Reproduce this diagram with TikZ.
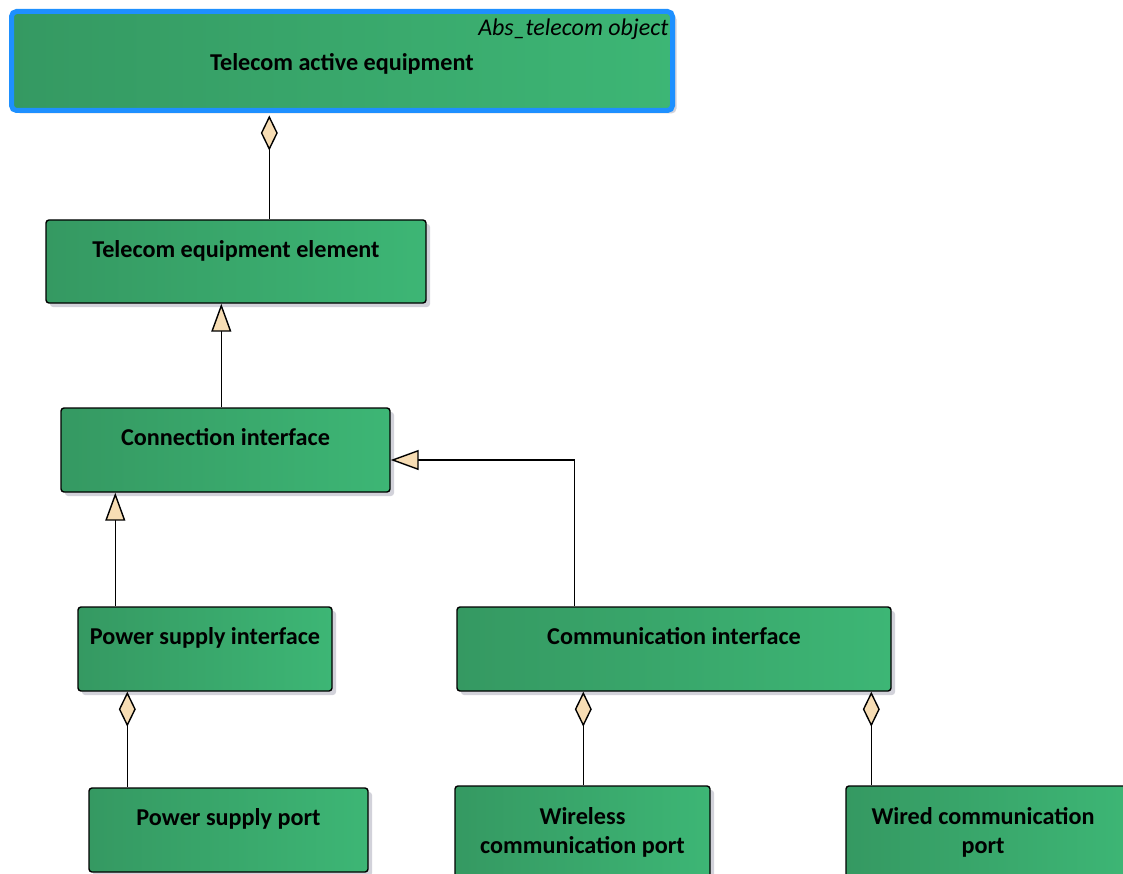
\documentclass[tikz,border=0pt]{standalone}
\usepackage{fontspec}
\setmainfont{Carlito}
\usetikzlibrary{arrows.meta,shadows,calc}
\definecolor{gL}{RGB}{53,153,98}
\definecolor{gR}{RGB}{61,182,117}
\definecolor{beige}{RGB}{247,221,180}
\definecolor{blueB}{RGB}{30,144,255}
\definecolor{shd}{RGB}{210,210,218}
\begin{document}
\begin{tikzpicture}[x=1pt,y=-1pt,
  box/.style={draw=black, line width=1.4pt, rounded corners=3pt, left color=gL, right color=gR, inner sep=0pt,
    drop shadow={shadow xshift=4pt, shadow yshift=-4pt, fill=shd, opacity=1}},
  topbox/.style={draw=blueB, line width=5pt, rounded corners=5pt, left color=gL, right color=gR, inner sep=0pt,
    drop shadow={shadow xshift=4pt, shadow yshift=-3pt, fill=shd, opacity=1}},
  lbl/.style={font=\fontsize{24.2}{29}\selectfont\bfseries, align=center, inner sep=0pt},
  stereo/.style={font=\fontsize{24}{28}\selectfont\itshape, inner sep=0pt},
  agg/.style={line width=1.4pt, -{Diamond[width=17pt,length=35pt,fill=beige]}},
  gen/.style={line width=1.4pt, -{Triangle[width=20pt,length=28pt,fill=beige]}}
]
\useasboundingbox (0,0) rectangle (1123,874);
\clip (0,0) rectangle (1123,874);

% boxes
\node[topbox, minimum width=661pt, minimum height=99pt] (top) at (342,61) {};
\node[box, minimum width=380pt, minimum height=83pt] (ele) at (236,261.5) {};
\node[box, minimum width=329pt, minimum height=84pt] (con) at (225.5,450) {};
\node[box, minimum width=254pt, minimum height=84pt] (psi) at (205,649) {};
\node[box, minimum width=434pt, minimum height=84pt] (ci) at (674,649) {};
\node[box, minimum width=279pt, minimum height=84pt] (psp) at (228.5,830) {};
\node[box, minimum width=255pt, minimum height=92pt] (wcp) at (582.5,832) {};
\node[box, minimum width=284pt, minimum height=92pt] (wired) at (988,832) {};

% labels
\node[stereo, anchor=base east] (top-s) at ([xshift=-6.5pt,yshift=-27pt]top.north east) {Abs\_telecom object};
\node[lbl, anchor=base] (top-t) at ([yshift=-61.5pt]top.north) {Telecom active equipment};
\node[lbl, anchor=base] (ele-t) at ([yshift=-38pt]ele.north) {Telecom equipment element};
\node[lbl, anchor=base] (con-t) at ([yshift=-38pt]con.north) {Connection interface};
\node[lbl, anchor=base] (psi-t) at ([yshift=-38pt]psi.north) {Power supply interface};
\node[lbl, anchor=base] (ci-t) at ([yshift=-38pt]ci.north) {Communication interface};
\node[lbl, anchor=base] (psp-t) at ([yshift=-38pt]psp.north) {Power supply port};
\node[lbl] (wcp-t) at ([yshift=-47pt]wcp.north) {Wireless\\communication port};
\node[lbl] (wired-t) at ([xshift=-5pt,yshift=-47pt]wired.north) {Wired communication\\port};

% connectors
\coordinate (a1) at ([xshift=224pt]ele.north west);
\draw[agg] (a1) -- ($(a1 |- top.south)+(0,2.5)$);

\coordinate (b1) at ([xshift=161pt]con.north west);
\draw[gen] (b1) -- (b1 |- ele.south);

\coordinate (c1) at ([xshift=38pt]psi.north west);
\draw[gen] (c1) -- (c1 |- con.south);

\coordinate (d1) at ([xshift=118pt]ci.north west);
\coordinate (d2) at ([yshift=-10pt]con.east);
\draw[gen] (d1) |- (d2);

\coordinate (e1) at ([xshift=39pt]psp.north west);
\draw[agg] (e1) -- (e1 |- psi.south);

\coordinate (f1) at ([xshift=129pt]wcp.north west);
\draw[agg] (f1) -- (f1 |- ci.south);

\coordinate (g1) at ([xshift=26pt]wired.north west);
\draw[agg] (g1) -- (g1 |- ci.south);
\end{tikzpicture}
\end{document}
